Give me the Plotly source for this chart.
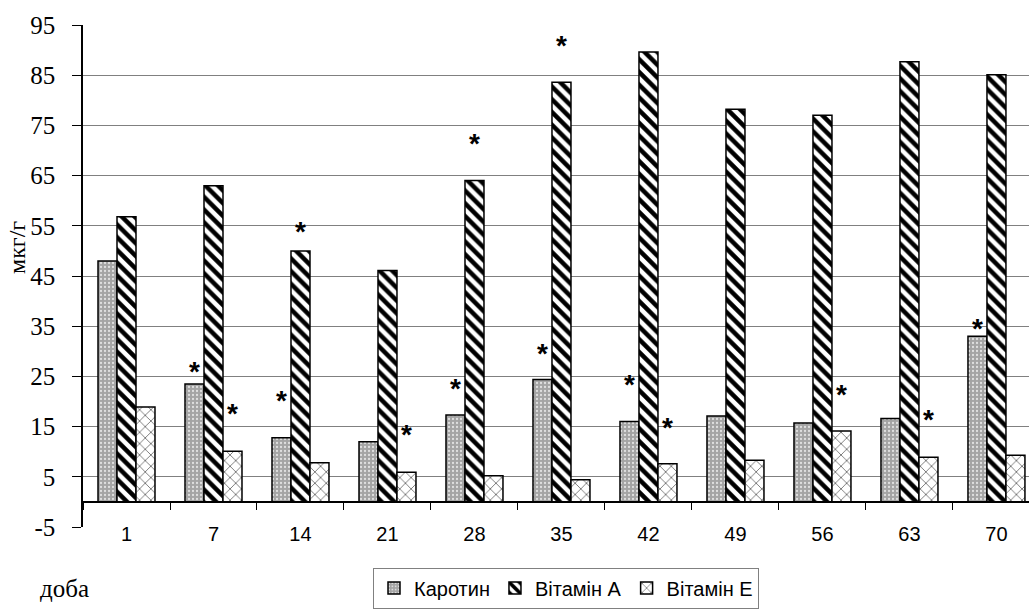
import plotly.graph_objects as go

days = ['1', '7', '14', '21', '28', '35', '42', '49', '56', '63', '70']
carotene = [48.0, 23.5, 12.8, 12.0, 17.3, 24.4, 16.0, 17.1, 15.7, 16.6, 33.0]
vit_a = [56.8, 63.0, 50.0, 46.1, 64.0, 83.6, 89.6, 78.2, 77.0, 87.7, 85.1]
vit_e = [18.9, 10.1, 7.8, 5.9, 5.2, 4.4, 7.6, 8.3, 14.1, 8.9, 9.3]

# significance marks (*) heights
star_carotene = [None, 25.4, 19.7, None, 22.1, 29.0, 22.9, None, None, None, 34.0]
star_vit_a = [None, None, 53.4, None, 70.9, 90.4, None, None, None, None, None]
star_vit_e = [None, 17.1, None, 12.9, None, None, 14.3, None, 20.9, 15.9, None]

y_ticks = [-5, 5, 15, 25, 35, 45, 55, 65, 75, 85, 95]
y_ticklabels = ['-5', '5', '15', '25', '35', '45', '55', '65', '75', '85', '95']

names = ['Каротин', 'Вітамін А', 'Вітамін Е']

fig = go.Figure()
line = dict(color='black', width=1.5)
fig.add_trace(go.Bar(
    x=days, y=carotene, name=names[0], offsetgroup='1',
    marker=dict(color='#a4a4a4', line=line,
                pattern=dict(shape='.', size=4, solidity=0.25,
                             fgcolor='#e0e0e0', bgcolor='#a4a4a4', fillmode='replace'))))
fig.add_trace(go.Bar(
    x=days, y=vit_a, name=names[1], offsetgroup='2',
    marker=dict(color='white', line=line,
                pattern=dict(shape='\\', size=9, solidity=0.5,
                             fgcolor='black', bgcolor='white', fillmode='replace'))))
fig.add_trace(go.Bar(
    x=days, y=vit_e, name=names[2], offsetgroup='3',
    marker=dict(color='white', line=line,
                pattern=dict(shape='x', size=8, solidity=0.15,
                             fgcolor='#333333', bgcolor='white', fillmode='replace'))))

for i, s in enumerate([star_carotene, star_vit_a, star_vit_e]):
    fig.add_trace(go.Scatter(
        x=days, y=s, mode='text', text=['*'] * len(days), offsetgroup=str(i + 1),
        textposition='middle center', showlegend=False, hoverinfo='skip',
        textfont=dict(family='Liberation Sans', size=28, color='black', weight='bold')))

plot_w = 1029 - 83
plot_h = 612 - 25 - 85

fig.update_layout(
    width=1029, height=612,
    margin=dict(l=83, r=0, t=25, b=85),
    paper_bgcolor='white', plot_bgcolor='white',
    barmode='group', bargap=0.345, bargroupgap=0,
    scattermode='group', scattergap=0.345,
    showlegend=True,
    legend=dict(orientation='h', x=(566 - 83) / plot_w, xanchor='center',
                y=(527 - 588) / plot_h, yanchor='middle',
                bordercolor='#808080', borderwidth=1,
                font=dict(family='Liberation Sans', size=20, color='black'),
                itemwidth=30, traceorder='normal'),
    xaxis=dict(type='category', range=[-0.5, 10.374], anchor='free', position=0.05,
               showline=True, linecolor='black', linewidth=2,
               ticks='outside', tickson='boundaries', ticklen=7, tickcolor='black', tickwidth=1,
               tickfont=dict(family='Liberation Sans', size=20, color='black'),
               ticklabelstandoff=14, showgrid=False, zeroline=False),
    yaxis=dict(range=[-5, 95], tickmode='array', tickvals=y_ticks, ticktext=y_ticklabels,
               showgrid=True, gridcolor='#808080', gridwidth=1,
               showline=True, linecolor='black', linewidth=1.5,
               ticks='outside', ticklen=9, tickcolor='black',
               tickfont=dict(family='Liberation Serif', size=25, color='black'),
               ticklabelstandoff=12, zeroline=False),
    annotations=[
        dict(text='мкг/г', x=(17 - 83) / plot_w, y=(527 - 248) / plot_h,
             xref='paper', yref='paper', showarrow=False,
             xanchor='center', yanchor='middle',
             textangle=-90, font=dict(family='Liberation Serif', size=24, color='black')),
        dict(text='доба', x=(64 - 83) / plot_w, y=(527 - 588) / plot_h,
             xref='paper', yref='paper', showarrow=False,
             xanchor='center', yanchor='middle',
             font=dict(family='Liberation Serif', size=25, color='black')),
    ],
)

fig.write_html('out.html', config={'displayModeBar': False},
               post_script="document.body.style.margin='0';")
